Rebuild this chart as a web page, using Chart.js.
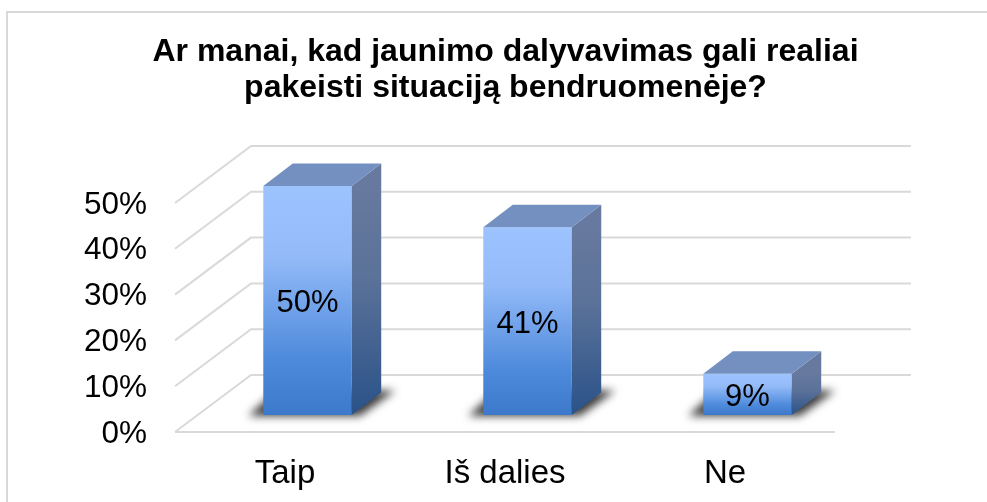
<!DOCTYPE html>
<html>
<head>
<meta charset="utf-8">
<script src="https://cdn.jsdelivr.net/npm/chart.js@4"></script>
<style>
  html, body { margin: 0; padding: 0; background: #fff; overflow: hidden; }
  canvas { display: block; }
</style>
</head>
<body>
<canvas id="chart" width="987" height="502"></canvas>
<script>
const titleLines = ['Ar manai, kad jaunimo dalyvavimas gali realiai', 'pakeisti situaciją bendruomenėje?'];
const categories = ['Taip', 'Iš dalies', 'Ne'];
const values = [50, 41, 9];
const tickValues = [0, 10, 20, 30, 40, 50];

const fontName = '"Liberation Sans", Arial, sans-serif';
const gridColor = '#d9d9d9';

// depth of the floor and how far back the bars stand on it
const wallX = 76, wallY = -57;
const barShiftX = 22.5, barShiftY = -17;
const depthX = 29.5, depthY = -22.5;

function barGradient(c) {
  const chart = c.chart;
  const y = chart.scales.y;
  if (c.raw === undefined || !y) return '#6a9fe8';
  const top = y.getPixelForValue(c.raw), bottom = y.getPixelForValue(0);
  // scales have no size yet on the first pass
  if (!isFinite(top) || !isFinite(bottom)) return '#6a9fe8';
  const g = chart.ctx.createLinearGradient(0, top, 0, bottom);
  g.addColorStop(0, '#9dc3ff');
  g.addColorStop(0.3, '#94bbf8');
  g.addColorStop(0.75, '#4f8bdc');
  g.addColorStop(1, '#3d79cb');
  return g;
}

const frame3d = {
  id: 'frame3d',
  afterLayout(chart) {
    // title is centred a bit right of the page and must not get squeezed
    chart.titleBlock.left = 24;
    chart.titleBlock.right = 987;

    // y labels sit slightly below their gridline in the reference
    const y = chart.scales.y, ctx = chart.ctx, drawLabels = y.drawLabels;
    y.drawLabels = function(area) {
      ctx.save();
      ctx.translate(0, 2);
      drawLabels.call(y, area);
      ctx.restore();
    };
  },
  beforeDraw(chart) {
    const ctx = chart.ctx;
    ctx.save();
    // outer chart border, runs off the right and bottom of the picture
    ctx.strokeStyle = gridColor;
    ctx.lineWidth = 2;
    ctx.beginPath();
    ctx.moveTo(7, 502);
    ctx.lineTo(7, 12);
    ctx.lineTo(987, 12);
    ctx.stroke();
    ctx.restore();
  },
  beforeDatasetsDraw(chart) {
    const ctx = chart.ctx, y = chart.scales.y, a = chart.chartArea;
    ctx.save();
    ctx.strokeStyle = gridColor;
    ctx.lineWidth = 2;
    tickValues.forEach(function(v) {
      const py = y.getPixelForValue(v);
      ctx.beginPath();
      ctx.moveTo(a.left, py);
      ctx.lineTo(a.left + wallX, py + wallY);
      ctx.lineTo(a.right + wallX, py + wallY);
      ctx.stroke();
    });
    ctx.beginPath();
    ctx.moveTo(a.left, y.getPixelForValue(0));
    ctx.lineTo(a.right, y.getPixelForValue(0));
    ctx.stroke();
    ctx.restore();

    // floor shadows
    ctx.save();
    ctx.translate(barShiftX, barShiftY);
    ctx.filter = 'blur(4px)';
    ctx.fillStyle = '#3c3c3c';
    chart.getDatasetMeta(0).data.forEach(function(bar) {
      const l = bar.x - bar.width / 2, r = bar.x + bar.width / 2, b = bar.base;
      ctx.beginPath();
      ctx.moveTo(l - 15, b + 1);
      ctx.lineTo(r + 8, b + 1);
      ctx.lineTo(r + depthX + 14, b + depthY - 2);
      ctx.lineTo(l + 13, b + depthY - 2);
      ctx.closePath();
      ctx.fill();
    });
    ctx.restore();

    // the library bars are drawn shifted back onto the floor
    ctx.save();
    ctx.translate(barShiftX, barShiftY);
  },
  afterDatasetsDraw(chart) {
    const ctx = chart.ctx;
    chart.getDatasetMeta(0).data.forEach(function(bar) {
      const l = bar.x - bar.width / 2, r = bar.x + bar.width / 2, t = bar.y, b = bar.base;

      const side = ctx.createLinearGradient(0, t, 0, b);
      side.addColorStop(0, '#67799e');
      side.addColorStop(0.4, '#5b7299');
      side.addColorStop(1, '#2a5288');
      ctx.fillStyle = side;
      ctx.beginPath();
      ctx.moveTo(r, t);
      ctx.lineTo(r + depthX, t + depthY);
      ctx.lineTo(r + depthX, b + depthY);
      ctx.lineTo(r, b);
      ctx.closePath();
      ctx.fill();

      ctx.fillStyle = '#7390c0';
      ctx.beginPath();
      ctx.moveTo(l, t);
      ctx.lineTo(l + depthX, t + depthY);
      ctx.lineTo(r + depthX, t + depthY);
      ctx.lineTo(r, t);
      ctx.closePath();
      ctx.fill();
    });

    // value labels
    ctx.fillStyle = '#000';
    ctx.font = '31px ' + fontName;
    ctx.textAlign = 'center';
    ctx.textBaseline = 'middle';
    chart.getDatasetMeta(0).data.forEach(function(bar, i) {
      ctx.fillText(values[i] + '%', bar.x, (bar.y + bar.base) / 2 + 3);
    });
    ctx.restore();
  }
};

new Chart(document.getElementById('chart'), {
  type: 'bar',
  data: {
    labels: categories,
    datasets: [{
      data: values,
      backgroundColor: barGradient,
      borderWidth: 0,
      categoryPercentage: 1,
      barPercentage: 0.402,
      clip: false
    }]
  },
  options: {
    responsive: false,
    animation: false,
    layout: { padding: { left: 0, right: 152, top: 0, bottom: 0 } },
    plugins: {
      legend: { display: false },
      tooltip: { enabled: false },
      title: {
        display: true,
        text: titleLines,
        color: '#000',
        font: { family: fontName, size: 32, weight: 'bold', lineHeight: 1.125 },
        padding: { top: 34, bottom: 97 }
      }
    },
    scales: {
      x: {
        grid: { display: false, drawTicks: false },
        border: { display: false },
        ticks: { color: '#000', padding: 22, font: { family: fontName, size: 33 }, maxRotation: 0 },
        afterFit(scale) { scale.height = 70; }
      },
      y: {
        min: 0,
        max: 50,
        grid: { display: false, drawTicks: false },
        border: { display: false },
        afterBuildTicks(scale) { scale.ticks = tickValues.map(function(v) { return { value: v }; }); },
        ticks: {
          color: '#000',
          padding: 28,
          font: { family: fontName, size: 31.5 },
          callback: function(v) { return v + '%'; }
        },
        afterFit(scale) { scale.width = 175; }
      }
    }
  },
  plugins: [frame3d]
});
</script>
</body>
</html>
